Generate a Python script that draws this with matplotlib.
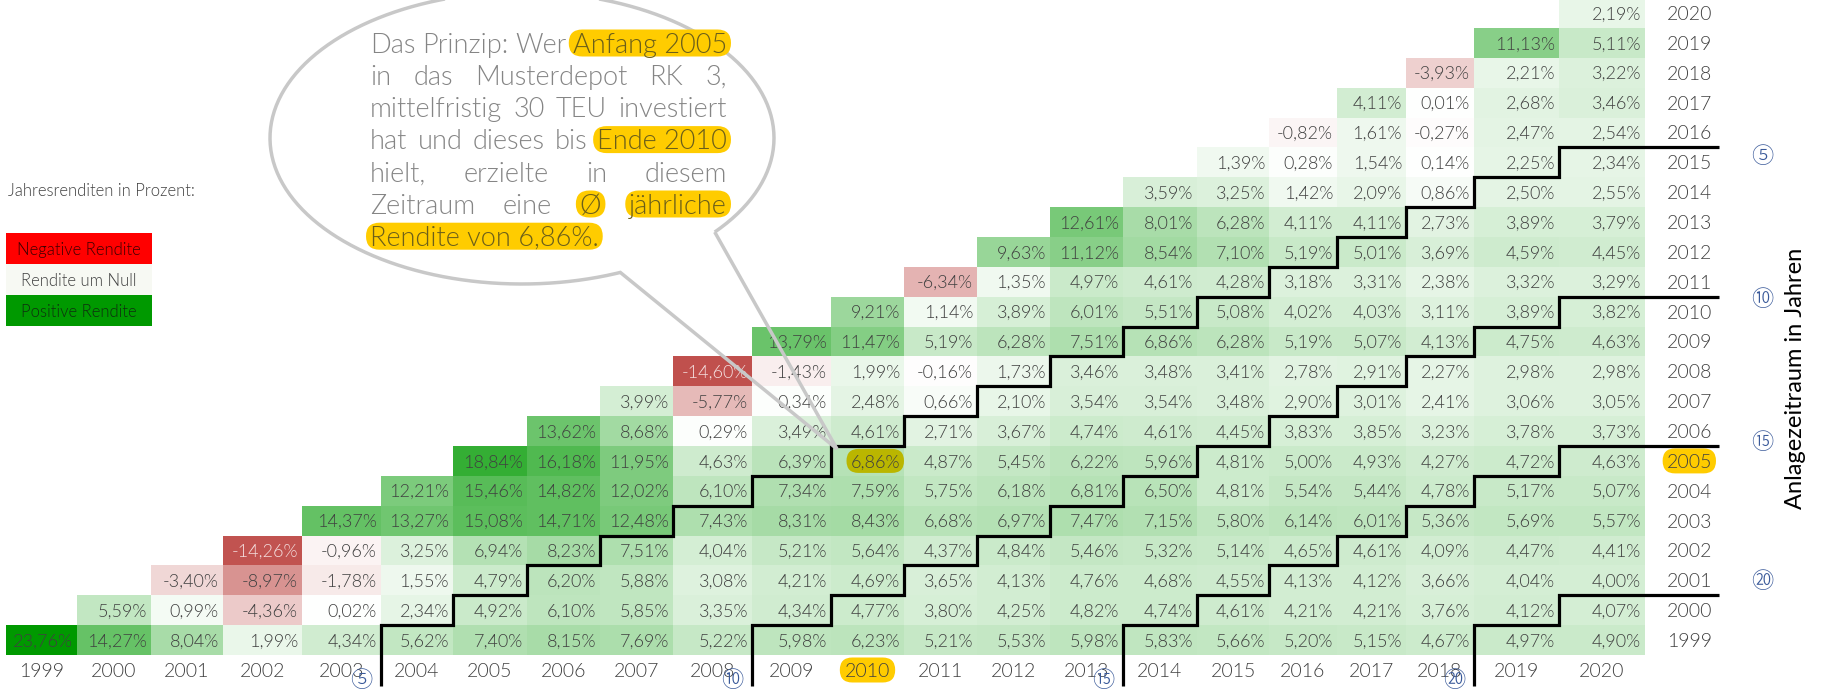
import matplotlib
matplotlib.use("Agg")
import matplotlib.pyplot as plt
import numpy as np
from matplotlib.colors import LinearSegmentedColormap, TwoSlopeNorm
from matplotlib.patches import FancyBboxPatch, Rectangle, PathPatch
from matplotlib.path import Path

plt.rcParams['font.family'] = ['Lato', 'DejaVu Sans']

# ---------------- data ----------------
years = list(range(1999, 2021))
# annualised returns (%) for start year -> end years start..2020
r1999 = [23.76, 14.27, 8.04, 1.99, 4.34, 5.62, 7.40, 8.15, 7.69, 5.22, 5.98, 6.23, 5.21, 5.53, 5.98, 5.83, 5.66, 5.20, 5.15, 4.67, 4.97, 4.90]
r2000 = [5.59, 0.99, -4.36, 0.02, 2.34, 4.92, 6.10, 5.85, 3.35, 4.34, 4.77, 3.80, 4.25, 4.82, 4.74, 4.61, 4.21, 4.21, 3.76, 4.12, 4.07]
r2001 = [-3.40, -8.97, -1.78, 1.55, 4.79, 6.20, 5.88, 3.08, 4.21, 4.69, 3.65, 4.13, 4.76, 4.68, 4.55, 4.13, 4.12, 3.66, 4.04, 4.00]
r2002 = [-14.26, -0.96, 3.25, 6.94, 8.23, 7.51, 4.04, 5.21, 5.64, 4.37, 4.84, 5.46, 5.32, 5.14, 4.65, 4.61, 4.09, 4.47, 4.41]
r2003 = [14.37, 13.27, 15.08, 14.71, 12.48, 7.43, 8.31, 8.43, 6.68, 6.97, 7.47, 7.15, 5.80, 6.14, 6.01, 5.36, 5.69, 5.57]
r2004 = [12.21, 15.46, 14.82, 12.02, 6.10, 7.34, 7.59, 5.75, 6.18, 6.81, 6.50, 4.81, 5.54, 5.44, 4.78, 5.17, 5.07]
r2005 = [18.84, 16.18, 11.95, 4.63, 6.39, 6.86, 4.87, 5.45, 6.22, 5.96, 4.81, 5.00, 4.93, 4.27, 4.72, 4.63]
r2006 = [13.62, 8.68, 0.29, 3.49, 4.61, 2.71, 3.67, 4.74, 4.61, 4.45, 3.83, 3.85, 3.23, 3.78, 3.73]
r2007 = [3.99, -5.77, 0.34, 2.48, 0.66, 2.10, 3.54, 3.54, 3.48, 2.90, 3.01, 2.41, 3.06, 3.05]
r2008 = [-14.60, -1.43, 1.99, -0.16, 1.73, 3.46, 3.48, 3.41, 2.78, 2.91, 2.27, 2.98, 2.98]
r2009 = [13.79, 11.47, 5.19, 6.28, 7.51, 6.86, 6.28, 5.19, 5.07, 4.13, 4.75, 4.63]
r2010 = [9.21, 1.14, 3.89, 6.01, 5.51, 5.08, 4.02, 4.03, 3.11, 3.89, 3.82]
r2011 = [-6.34, 1.35, 4.97, 4.61, 4.28, 3.18, 3.31, 2.38, 3.32, 3.29]
r2012 = [9.63, 11.12, 8.54, 7.10, 5.19, 5.01, 3.69, 4.59, 4.45]
r2013 = [12.61, 8.01, 6.28, 4.11, 4.11, 2.73, 3.89, 3.79]
r2014 = [3.59, 3.25, 1.42, 2.09, 0.86, 2.50, 2.55]
r2015 = [1.39, 0.28, 1.54, 0.14, 2.25, 2.34]
r2016 = [-0.82, 1.61, -0.27, 2.47, 2.54]
r2017 = [4.11, 0.01, 2.68, 3.46]
r2018 = [-3.93, 2.21, 3.22]
r2019 = [11.13, 5.11]
r2020 = [2.19]
rows = [r1999, r2000, r2001, r2002, r2003, r2004, r2005, r2006, r2007, r2008, r2009,
        r2010, r2011, r2012, r2013, r2014, r2015, r2016, r2017, r2018, r2019, r2020]
periods = [5, 10, 15, 20]
highlight_start, highlight_end = 2005, 2010

# ---------------- layout ----------------
COL_W = [71, 74, 72, 79, 79, 72, 74, 73, 73, 79, 79, 73, 73, 73, 73, 74, 72, 68, 69, 68, 85, 86]
X0 = 6
ROW_H = 29.86
Y_BOTTOM = 655
FS = 13
TXT = '#404040'
LW = 300

n = len(years)
xe = X0 + np.concatenate([[0], np.cumsum(COL_W)])
ye = Y_BOTTOM - ROW_H * np.arange(n + 1)

M = np.full((n, n), np.nan)
for i, r in enumerate(rows):
    for k, v in enumerate(r):
        M[i, i + k] = v
Mm = np.ma.masked_invalid(M)

fig = plt.figure(figsize=(18.22, 6.91), dpi=100)
ax = fig.add_axes([0, 0, 1, 1])
ax.set_xlim(0, 1822)
ax.set_ylim(691, 0)
ax.axis('off')

cmap = LinearSegmentedColormap.from_list('rg', [(0, '#c0504d'), (0.5, '#ffffff'), (1, '#009900')])
norm = TwoSlopeNorm(vmin=np.nanmin(M), vcenter=0, vmax=np.nanmax(M))
ax.pcolormesh(xe, ye, Mm, cmap=cmap, norm=norm, shading='flat', zorder=1)


def ptxt(x, yc, s, fs, cap=0.36, **kw):
    kw.setdefault('fontweight', LW)
    return ax.text(x, yc + cap * fs * 100 / 72, s, fontsize=fs, va='baseline', **kw)


r = fig.canvas.get_renderer()


def hbox(t, yc, fs, color, padx=4, h=None):
    bb = t.get_window_extent(r)
    if h is None:
        h = fs * 100 / 72 * 1.05
    p = FancyBboxPatch((bb.x0 - padx, yc - h / 2), bb.width + 2 * padx, h,
                       boxstyle=f"round,pad=0,rounding_size={h / 2}",
                       fc=color, ec='none', zorder=t.get_zorder() - 0.5)
    ax.add_patch(p)


fmt = lambda v: f"{v:.2f}%".replace('.', ',')
for i in range(n):
    for j in range(n):
        v = M[i, j]
        if np.isnan(v):
            continue
        yc = (ye[i] + ye[i + 1]) / 2
        col = '#f4dede' if v < -10 else TXT
        t = ptxt(xe[j + 1] - 4, yc, fmt(v), FS, ha='right', color=col, zorder=3)
        if years[i] == highlight_start and years[j] == highlight_end:
            hbox(t, yc, FS, '#bab600', padx=4, h=24)

# column labels (end year)
for j, y in enumerate(years):
    t = ptxt((xe[j] + xe[j + 1]) / 2, 670, str(y), 14, ha='center', color=TXT, zorder=3)
    if y == highlight_end:
        hbox(t, 670, 14, '#ffcc00', padx=5, h=25)
# row labels (start year)
for i, y in enumerate(years):
    yc = (ye[i] + ye[i + 1]) / 2
    t = ptxt(1712, yc, str(y), 14, ha='right', color=TXT, zorder=3)
    if y == highlight_start:
        hbox(t, yc, 14, '#ffcc00', padx=4, h=25)

# staircase lines for holding periods
for N in periods:
    pts = [(xe[N], 686)]
    for s in range(0, n - N):
        c = s + N
        pts.append((xe[c], ye[s + 1]))
        pts.append((xe[c + 1], ye[s + 1]))
    pts[-1] = (1719, pts[-1][1])
    px, py = zip(*pts)
    ax.plot(px, py, color='black', lw=2.3, solid_joinstyle='miter', solid_capstyle='butt', zorder=4)

# circled period markers
circ = {5: '⑤', 10: '⑩', 15: '⑮', 20: '⑳'}
right_y = {5: 157, 10: 300, 15: 443, 20: 582}
CF = ['Noto Sans CJK JP', 'DejaVu Sans']
for N in periods:
    ax.text(xe[N] - 20, 681, circ[N], fontsize=16, color='#3a5a9a', ha='center', va='center',
            family=CF, fontweight=300, zorder=5)
    ax.text(1762, right_y[N], circ[N], fontsize=16, color='#3a5a9a', ha='center', va='center',
            family=CF, fontweight=300, zorder=5)

ax.text(1795, 378, 'Anlagezeitraum in Jahren', rotation=90, fontsize=17, color='black',
        ha='center', va='center')

# legend
ptxt(8, 190, 'Jahresrenditen in Prozent:', 12, color=TXT)
leg = [('Negative Rendite', '#ff0000', '#3a0000'), ('Rendite um Null', '#f7f9f3', TXT),
       ('Positive Rendite', '#009900', '#0f2f0f')]
for k, (lab, fc, tc) in enumerate(leg):
    y0 = 233 + k * 31
    ax.add_patch(Rectangle((6, y0), 146, 31, fc=fc, ec='none'))
    ptxt(79, y0 + 15.5, lab, 12, ha='center', color=tc)

# speech bubble
cx, cy, a, b = 522, 138, 252, 146
tA, tB = 1.17, 0.70
tip = (xe[years.index(highlight_end)] + 6, ye[years.index(highlight_start) + 1] + 3)
ts = np.linspace(tB, tA - 2 * np.pi, 300)
verts = [(cx + a * np.cos(t), cy + b * np.sin(t)) for t in ts]
verts.append(tip)
verts.append(verts[0])
ax.add_patch(PathPatch(Path(verts), fc='none', ec='#c8c8c8', lw=2.5, zorder=6, joinstyle='miter'))

BUB = [
    [("Das", 0), ("Prinzip:", 0), ("Wer", 0), ("Anfang 2005", 1)],
    [("in", 0), ("das", 0), ("Musterdepot", 0), ("RK", 0), ("3,", 0)],
    [("mittelfristig", 0), ("30", 0), ("TEU", 0), ("investiert", 0)],
    [("hat", 0), ("und", 0), ("dieses", 0), ("bis", 0), ("Ende 2010", 1)],
    [("hielt,", 0), ("erzielte", 0), ("in", 0), ("diesem", 0)],
    [("Zeitraum", 0), ("eine", 0), ("Ø", 1), ("jährliche", 1)],
    [("Rendite von 6,86%.", 1)],
]
XL, XR = 370, 727
BFS = 19.5
for li, toks in enumerate(BUB):
    yc = 43 + li * 32.2
    objs = [ptxt(0, yc, s, BFS, color=('#6b5f1a' if hl else '#858585'), zorder=8) for s, hl in toks]
    ws = [o.get_window_extent(r).width for o in objs]
    if li == len(BUB) - 1 or len(objs) == 1:
        gap = 6
    else:
        gap = (XR - XL - sum(ws)) / (len(objs) - 1)
    x = XL
    for o, w, (s, hl) in zip(objs, ws, toks):
        o.set_x(x)
        if hl:
            hbox(o, yc, BFS, '#ffcc00', padx=4, h=27)
        x += w + gap

fig.savefig('out.png', dpi=100)
